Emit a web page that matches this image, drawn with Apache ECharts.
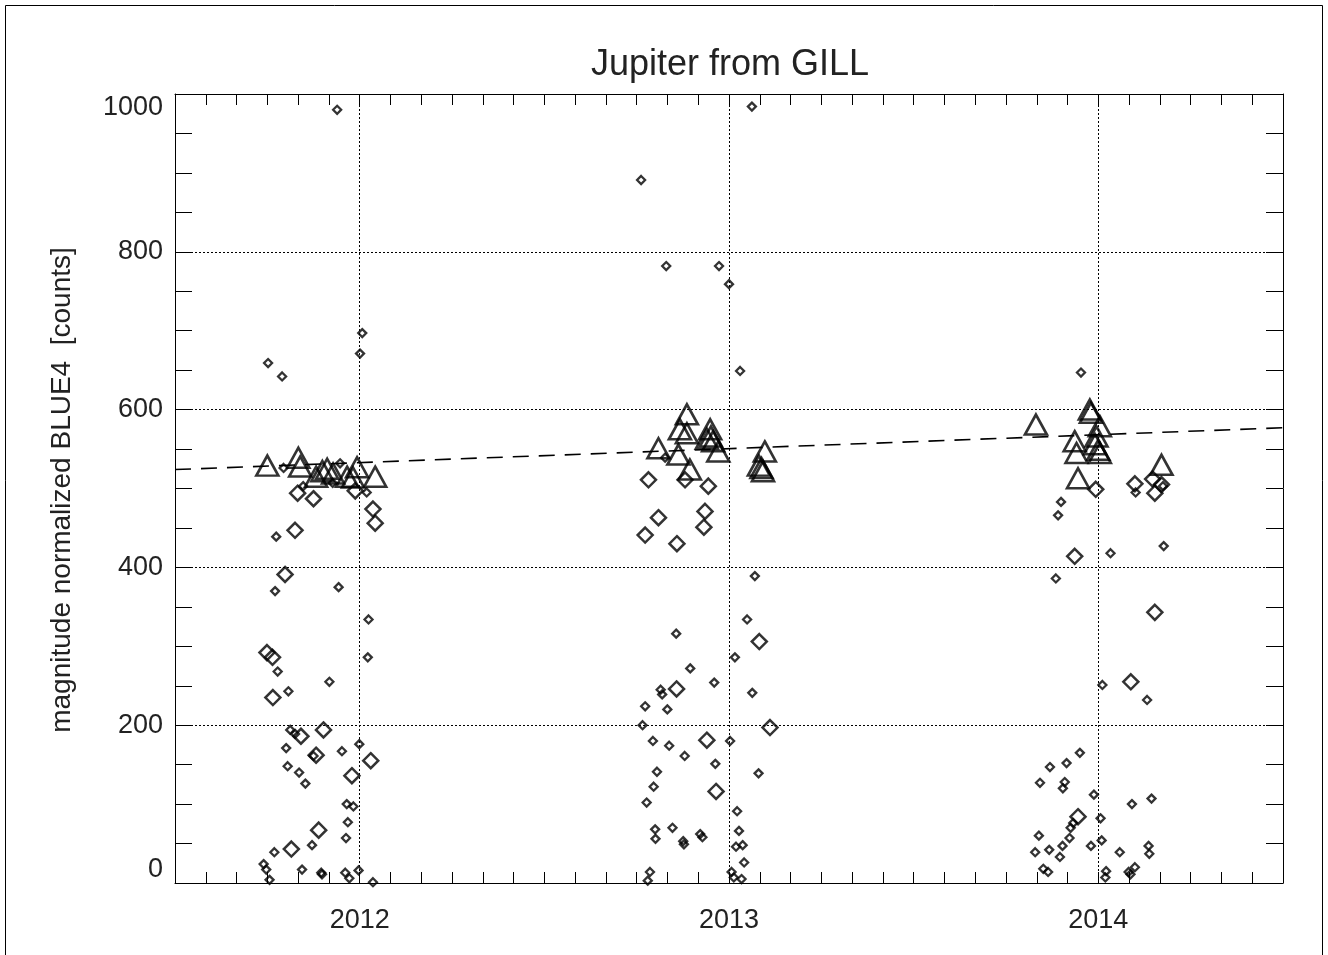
<!DOCTYPE html>
<html>
<head>
<meta charset="utf-8">
<script src="https://cdn.jsdelivr.net/npm/echarts@6/dist/echarts.min.js"></script>
<style>
html,body{margin:0;padding:0;background:#fff;}
#chart{width:1328px;height:955px;}
</style>
</head>
<body>
<div id="chart"></div>
<script>
// ---- data: [decimal year, counts] ----
const titleText = 'Jupiter from GILL';
const yAxisName = 'magnitude normalized BLUE4  [counts]';
const yearTicks = [2012, 2013, 2014];
const countTicks = [0, 200, 400, 600, 800, 1000];

const triangles = [
  [2011.750,529],[2011.834,539],[2011.839,528],[2011.882,515],[2011.899,522],[2011.912,525],
  [2011.928,519],[2011.966,515],[2011.982,514],[2011.993,527],[2012.042,515],
  [2012.886,594],[2012.867,575],[2012.886,570],[2012.949,575],[2012.951,566],[2012.940,563],
  [2012.971,547],[2012.809,551],[2012.863,543],[2012.894,524],[2013.097,547],[2013.088,526],
  [2013.092,522],[2013.081,529],[2012.957,560],
  [2013.831,581],[2013.977,600],[2013.980,596],[2014.004,579],[2013.936,560],[2013.941,545],
  [2013.995,566],[2013.991,556],[2014.000,549],[2014.004,545],[2013.945,513],[2014.171,530]
];

const diamondsLarge = [
  [2011.832,494],[2011.875,487],[2011.825,447],[2012.036,474],[2012.042,456],[2011.798,391],
  [2011.988,497],[2011.749,292],[2011.764,286],[2011.765,235],[2011.841,186],[2011.902,194],
  [2011.882,162],[2012.030,155],[2011.979,136],[2011.889,67],[2011.815,43],
  [2012.782,511],[2012.881,511],[2012.944,503],[2012.935,471],[2012.809,463],[2012.773,441],
  [2012.859,430],[2012.932,451],[2013.082,306],[2012.858,246],[2013.111,197],[2012.940,181],
  [2012.965,116],
  [2013.993,499],[2014.099,506],[2014.147,512],[2014.153,494],[2014.171,505],[2013.936,414],
  [2014.153,343],[2014.088,255],[2013.945,84]
];

const diamondsSmall = [
  [2011.794,526],[2011.947,532],[2011.847,503],[2011.927,507],[2012.019,495],[2011.774,439],
  [2011.771,370],[2011.943,375],[2012.024,334],[2011.752,659],[2011.790,642],[2011.939,980],
  [2012.007,697],[2012.001,671],[2011.778,268],[2011.918,255],[2011.807,243],[2012.022,286],
  [2011.812,194],[2011.825,189],[2011.801,171],[2011.875,161],[2011.952,167],[2011.999,176],
  [2011.805,148],[2011.836,140],[2011.853,126],[2011.965,100],[2011.983,97],[2011.968,77],
  [2011.963,57],[2011.871,48],[2011.769,39],[2011.740,24],[2011.747,17],[2011.756,4],
  [2011.844,17],[2011.896,13],[2011.898,11],[2011.961,13],[2011.972,6],[2011.997,16],[2012.036,1],
  [2012.762,891],[2012.830,782],[2012.973,782],[2013.000,759],[2013.062,984],[2013.030,649],
  [2013.070,389],[2012.827,539],[2012.857,316],[2013.016,286],[2013.049,334],[2012.895,272],
  [2012.960,254],[2012.815,245],[2012.819,239],[2013.063,241],[2012.773,224],[2012.833,220],
  [2012.766,200],[2012.794,180],[2012.838,174],[2013.003,180],[2012.880,161],[2012.963,151],
  [2012.805,141],[2013.080,139],[2012.796,122],[2012.777,102],[2013.022,91],[2012.800,68],
  [2012.847,70],[2013.027,66],[2012.801,56],[2012.876,53],[2012.878,49],[2012.922,62],
  [2012.928,58],[2013.019,46],[2013.037,48],[2013.041,26],[2012.786,14],[2012.780,3],
  [2013.007,14],[2013.013,7],[2013.034,5],
  [2014.101,495],[2014.175,503],[2013.899,483],[2013.891,466],[2014.033,418],[2014.177,427],
  [2013.885,386],[2013.953,647],[2014.011,251],[2014.132,232],[2013.950,165],[2013.869,147],
  [2013.914,152],[2013.842,127],[2013.909,128],[2013.904,120],[2013.988,112],[2014.091,100],
  [2014.144,107],[2013.932,76],[2013.925,70],[2014.006,82],[2013.839,60],[2013.922,57],
  [2014.009,54],[2013.980,47],[2013.903,47],[2013.867,42],[2013.829,39],[2013.896,33],
  [2014.058,39],[2014.136,47],[2014.138,37],[2013.851,18],[2013.864,14],[2014.021,15],
  [2014.019,7],[2014.082,14],[2014.087,11],[2014.099,20]
];

const fitLine = [[2011.5,524],[2014.5,577]];

// ---- chart ----
const X_MIN = 2011.5, X_MAX = 2014.5;
const Y_MIN = countTicks[0], Y_MAX = countTicks[countTicks.length-1];
const FONT = 'Liberation Sans, Arial, Helvetica, sans-serif';
const TXT = '#222';

const isYear = v => Math.abs(v - Math.round(v)) < 1e-6;

const xBase = {
  type: 'value', min: X_MIN, max: X_MAX, interval: 1/12,
  axisLine: {show: true, onZero: false, lineStyle: {color: '#000', width: 1}},
  axisTick: {show: true, inside: true, length: 11, lineStyle: {color: '#000', width: 1}},
  splitLine: {show: false}
};
const yBase = {
  type: 'value', min: Y_MIN, max: Y_MAX, interval: 200,
  axisLine: {show: true, onZero: false, lineStyle: {color: '#000', width: 1}},
  axisTick: {show: true, inside: true, length: 17, lineStyle: {color: '#000', width: 1}},
  minorTick: {show: true, splitNumber: 4, length: 17, lineStyle: {color: '#000', width: 1}}
};

const option = {
  animation: false,
  backgroundColor: '#fff',
  title: {
    text: titleText, left: 725, top: 42, textAlign: 'center',
    textStyle: {fontFamily: FONT, fontSize: 36, fontWeight: 'normal', color: TXT}
  },
  grid: {left: 175, right: 45, top: 94, bottom: 72, containLabel: false},
  xAxis: [
    Object.assign({}, xBase, {
      position: 'bottom',
      axisLabel: {
        show: true, margin: 24, fontFamily: FONT, fontSize: 27, color: TXT,
        formatter: v => (isYear(v) && yearTicks.includes(Math.round(v))) ? String(Math.round(v)) : ''
      }
    }),
    Object.assign({}, xBase, {position: 'top', axisLabel: {show: false}})
  ],
  yAxis: [
    Object.assign({}, yBase, {
      position: 'left',
      axisLabel: {
        show: true, margin: 12, fontFamily: FONT, fontSize: 27, color: TXT,
        formatter: v => String(Math.round(v)),
        verticalAlignMaxLabel: 'top', verticalAlignMinLabel: 'bottom'
      },
      splitLine: {show: true, lineStyle: {color: '#000', width: 1, type: [2, 2]}}
    }),
    Object.assign({}, yBase, {position: 'right', axisLabel: {show: false}, splitLine: {show: false}})
  ],
  graphic: [
    {type: 'rect', shape: {x: 5.5, y: 5.5, width: 1317, height: 1000},
     style: {fill: 'none', stroke: '#000', lineWidth: 1}, silent: true},
    {type: 'text', x: 62, y: 490, rotation: Math.PI / 2,
     style: {text: yAxisName, fontFamily: FONT, fontSize: 28, fill: TXT,
             align: 'center', verticalAlign: 'middle'}, silent: true}
  ],
  series: [
    {
      name: 'fit', type: 'line', data: fitLine, showSymbol: false, symbol: 'none',
      lineStyle: {color: '#000', width: 1.6, type: [16, 10]}, z: 1,
      markLine: {
        silent: true, symbol: 'none', label: {show: false},
        lineStyle: {color: '#000', width: 1, type: [2, 2]},
        data: yearTicks.map(y => ({xAxis: y}))
      }
    },
    {
      name: 'small', type: 'scatter', data: diamondsSmall, symbol: 'diamond', symbolSize: 8,
      itemStyle: {color: 'rgba(0,0,0,0)', borderColor: '#000', borderWidth: 2.3}, z: 3
    },
    {
      name: 'large', type: 'scatter', data: diamondsLarge, symbol: 'diamond', symbolSize: 15,
      itemStyle: {color: 'rgba(0,0,0,0)', borderColor: '#000', borderWidth: 2.5}, z: 3
    },
    {
      name: 'tri', type: 'scatter', data: triangles, symbol: 'triangle', symbolSize: [22, 20],
      itemStyle: {color: 'rgba(0,0,0,0)', borderColor: '#000', borderWidth: 2.6}, z: 4
    }
  ]
};

const chart = echarts.init(document.getElementById('chart'), null, {renderer: 'canvas'});
chart.setOption(option);
</script>
</body>
</html>
